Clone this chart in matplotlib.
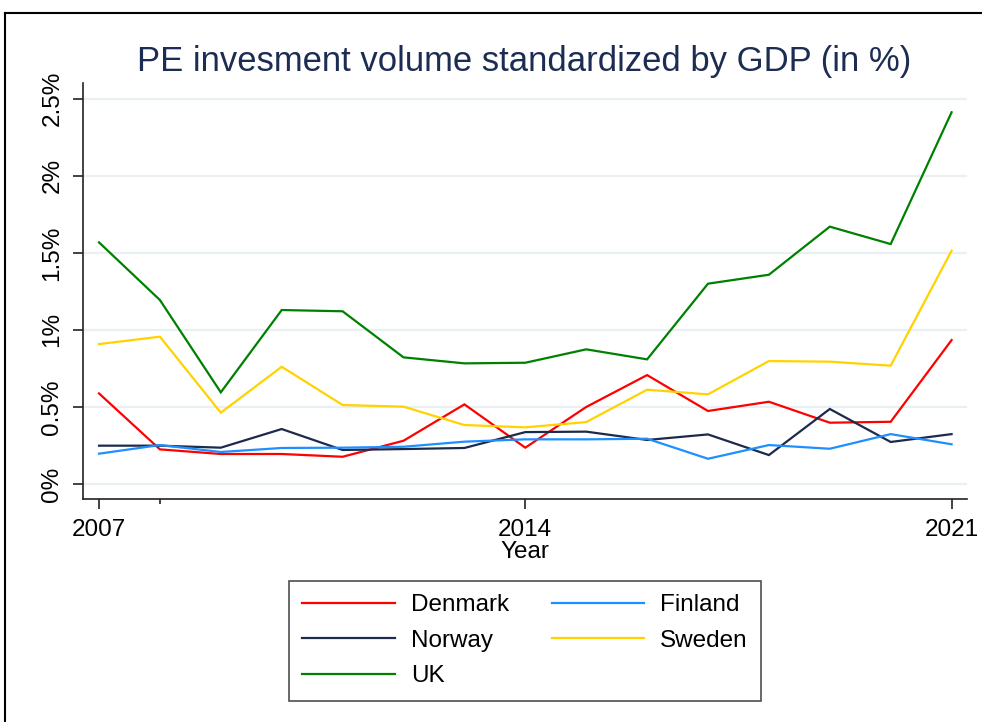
import matplotlib
matplotlib.use("Agg")
import matplotlib.pyplot as plt
from matplotlib.lines import Line2D

plt.rcParams['font.family'] = ['Liberation Sans', 'DejaVu Sans']

years = list(range(2007, 2022))
denmark = [0.588, 0.225, 0.195, 0.195, 0.177, 0.281, 0.517, 0.236, 0.500, 0.707, 0.474, 0.534, 0.398, 0.404, 0.934]
finland = [0.197, 0.253, 0.208, 0.234, 0.236, 0.242, 0.275, 0.290, 0.290, 0.294, 0.164, 0.253, 0.229, 0.324, 0.258]
norway = [0.249, 0.249, 0.236, 0.357, 0.221, 0.227, 0.234, 0.337, 0.340, 0.286, 0.322, 0.188, 0.487, 0.273, 0.324]
sweden = [0.908, 0.956, 0.463, 0.761, 0.513, 0.502, 0.383, 0.368, 0.402, 0.612, 0.582, 0.798, 0.794, 0.768, 1.514]
uk = [1.568, 1.194, 0.595, 1.129, 1.121, 0.822, 0.783, 0.787, 0.874, 0.809, 1.300, 1.358, 1.670, 1.557, 2.412]

ytick_vals = [0, 0.5, 1, 1.5, 2, 2.5]
ytick_labels = ["0%", "0.5%", "1%", "1.5%", "2%", "2.5%"]
xtick_major = [2007, 2014, 2021]
xtick_minor = [2008]

title = "PE invesment volume standardized by GDP (in %)"

FS = 17.5

fig = plt.figure(figsize=(9.82, 7.22), dpi=100)
ax = fig.add_axes([83/982, 1-499/722, (967-83)/982, (499-83)/722])

series = [
    ("Denmark", denmark, "#ff0000"),
    ("Norway", norway, "#1c2a4c"),
    ("UK", uk, "#008000"),
    ("Finland", finland, "#1e8fff"),
    ("Sweden", sweden, "#ffd200"),
]
handles = []
for name, vals, col in series:
    h, = ax.plot(years, vals, color=col, lw=1.6, label=name, solid_joinstyle='miter', zorder=3)
    handles.append(h)

ax.set_xlim(2006.737, 2021.253)
ax.set_ylim(-0.097, 2.602)
ax.set_yticks(ytick_vals)
ax.set_yticklabels(ytick_labels, rotation=90, va='center')
ax.set_xticks(xtick_major)
ax.set_xticks(xtick_minor, minor=True)
ax.set_xticklabels([str(x) for x in xtick_major])

for s in ['top', 'right']:
    ax.spines[s].set_visible(False)
for s in ['left', 'bottom']:
    ax.spines[s].set_color('#222222')
    ax.spines[s].set_linewidth(1.2)

ax.tick_params(axis='both', which='major', length=7.2, width=1.2, color='#222222',
               labelsize=FS, pad=7)
ax.tick_params(axis='x', which='minor', length=3.6, width=1.2, color='#222222')
ax.grid(axis='y', color='#e9eff3', lw=1.6, zorder=0)
ax.set_axisbelow(True)

ax.set_xlabel("Year", fontsize=FS, labelpad=0)
fig.text(524/982, 1-70.7/722, title, ha='center', va='baseline', fontsize=24.9, color='#1c2c52')

leg = ax.legend(handles=handles, ncol=2, loc='upper center',
                bbox_to_anchor=(0.5, (499-581)/(499-83)),
                fontsize=FS, frameon=True, fancybox=False, edgecolor='#222222',
                handlelength=3.8, handletextpad=0.66, columnspacing=1.75,
                labelspacing=0.55, borderpad=0.55, borderaxespad=0)
leg.get_frame().set_linewidth(1.2)

# outer frame
fig.add_artist(Line2D([5/982, 5/982], [1-13/722, 0], color='black', lw=1.5, transform=fig.transFigure))
fig.add_artist(Line2D([5/982, 1], [1-13/722, 1-13/722], color='black', lw=1.5, transform=fig.transFigure))

fig.savefig("out.png", dpi=100)
